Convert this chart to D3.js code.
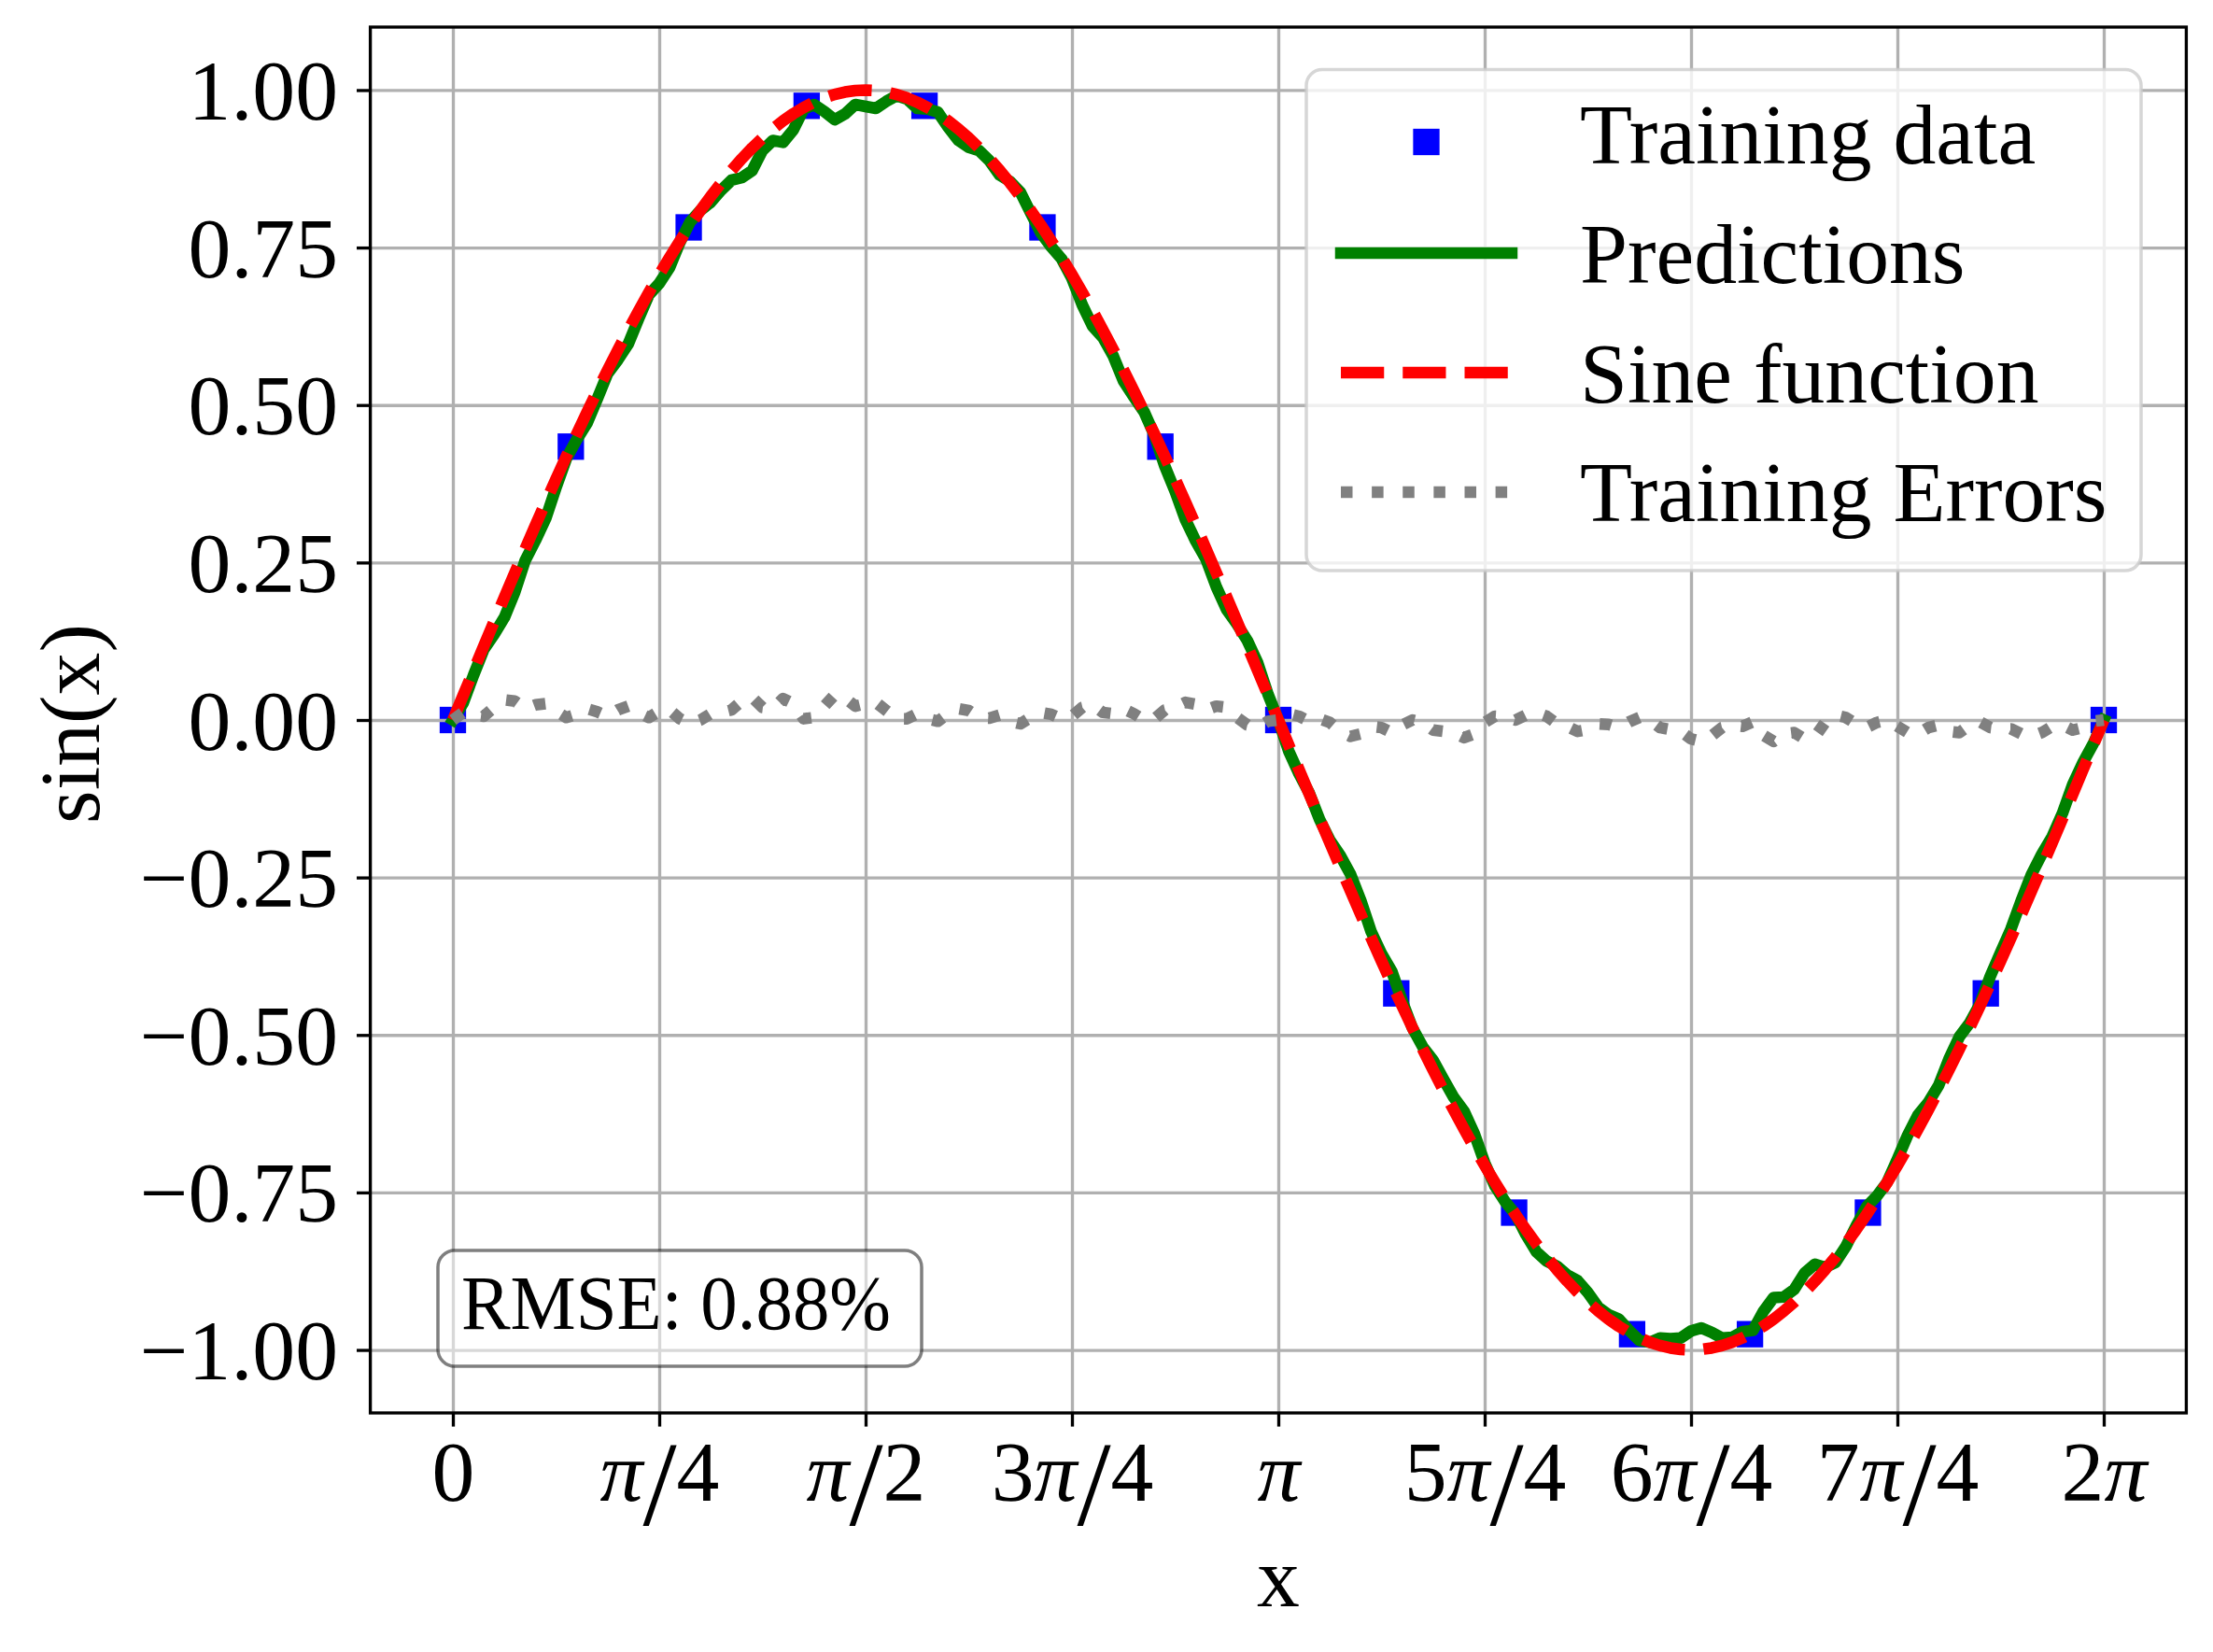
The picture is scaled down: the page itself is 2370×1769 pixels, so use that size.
<!DOCTYPE html>
<html>
<head>
<meta charset="utf-8">
<script src="https://cdn.jsdelivr.net/npm/d3@7"></script>
<style>
  html, body { margin: 0; padding: 0; background: #ffffff; }
  svg { display: block; }
</style>
</head>
<body>
<div id="chart"></div>
<script>
// ---------------- data (x in units of π) ----------------
const xTickValues = [0, 0.25, 0.5, 0.75, 1, 1.25, 1.5, 1.75, 2];
const xTickLabels = ["0", "π/4", "π/2", "3π/4", "π", "5π/4", "6π/4", "7π/4", "2π"];
const yTickValues = [-1, -0.75, -0.5, -0.25, 0, 0.25, 0.5, 0.75, 1];
const yTickLabels = ["−1.00", "−0.75", "−0.50", "−0.25", "0.00", "0.25", "0.50", "0.75", "1.00"];

const trainX = [0, 0.1429, 0.2857, 0.4286, 0.5714, 0.7143, 0.8571, 1, 1.1429, 1.2857, 1.4286, 1.5714, 1.7143, 1.8571, 2];
const trainY = [0, 0.434, 0.782, 0.975, 0.975, 0.782, 0.434, 0, -0.434, -0.782, -0.975, -0.975, -0.782, -0.434, 0];

// curves sampled every π/80 from 0 to 2π (161 samples)
const curveStepPi = 1 / 80;
const sineValues = [
  0, .0393, .0785, .1175, .1564, .1951, .2334, .2714, .309, .3461, .3827, .4187, .454, .4886, .5225, .5556, .5878, .6191, .6494, .6788, .7071, .7343, .7604, .7853, .809, .8315, .8526, .8725, .891, .9081, .9239, .9382, .9511, .9625, .9724, .9808, .9877, .9931, .9969, .9992, 1.0,
  .9992, .9969, .9931, .9877, .9808, .9724, .9625, .9511, .9382, .9239, .9081, .891, .8725, .8526, .8315, .809, .7853, .7604, .7343, .7071, .6788, .6494, .6191, .5878, .5556, .5225, .4886, .454, .4187, .3827, .3461, .309, .2714, .2334, .1951, .1564, .1175, .0785, .0393, 0,
  -.0393, -.0785, -.1175, -.1564, -.1951, -.2334, -.2714, -.309, -.3461, -.3827, -.4187, -.454, -.4886, -.5225, -.5556, -.5878, -.6191, -.6494, -.6788, -.7071, -.7343, -.7604, -.7853, -.809, -.8315, -.8526, -.8725, -.891, -.9081, -.9239, -.9382, -.9511, -.9625, -.9724, -.9808, -.9877, -.9931, -.9969, -.9992, -1.0,
  -.9992, -.9969, -.9931, -.9877, -.9808, -.9724, -.9625, -.9511, -.9382, -.9239, -.9081, -.891, -.8725, -.8526, -.8315, -.809, -.7853, -.7604, -.7343, -.7071, -.6788, -.6494, -.6191, -.5878, -.5556, -.5225, -.4886, -.454, -.4187, -.3827, -.3461, -.309, -.2714, -.2334, -.1951, -.1564, -.1175, -.0785, -.0393, 0
];
const predValues = [
  0, .027, .071, .112, .136, .163, .203, .253, .285, .320, .369, .415, .445, .471, .51, .55, .572, .597, .637, .675, .693, .718, .758, .791, .809, .822, .841, .857, .861, .872, .904, .92, .917, .937, .97, .977, .966, .953, .962, .977, .974,
  .971, .982, .991, .986, .971, .97, .965, .941, .92, .909, .904, .888, .865, .855, .838, .805, .773, .751, .732, .701, .659, .625, .607, .578, .538, .513, .489, .452, .403, .363, .318, .284, .255, .211, .175, .152, .126, .091, .041, 0,
  -.049, -.085, -.116, -.158, -.191, -.215, -.245, -.287, -.336, -.371, -.399, -.446, -.489, -.519, -.54, -.57, -.599, -.621, -.657, -.703, -.74, -.765, -.785, -.817, -.844, -.859, -.867, -.881, -.89, -.909, -.932, -.944, -.951, -.969, -.985, -.988, -.981, -.982, -.981, -.97,
  -.965, -.972, -.981, -.98, -.971, -.969, -.939, -.917, -.916, -.904, -.878, -.864, -.869, -.861, -.836, -.803, -.773, -.756, -.734, -.697, -.659, -.627, -.607, -.58, -.538, -.503, -.481, -.451, -.407, -.369, -.332, -.287, -.245, -.213, -.185, -.148, -.102, -.067, -.037, 0
];
const errorValues = [
  0, .012, .008, .006, .02, .032, .03, .018, .024, .026, .014, .004, .009, .018, .013, .006, .016, .022, .012, .004, .014, .016, .002, -.006, 0, .01, .012, .016, .03, .036, .02, .018, .034, .026, .002, .004, .022, .04, .035, .022, .026,
  .028, .015, .002, .002, .01, .002, -.002, .01, .018, .015, .004, .003, .008, -.002, -.006, .004, .012, .009, .002, .006, .02, .024, .012, .01, .018, .01, 0, .002, .016, .02, .028, .025, .016, .022, .02, .004, -.008, -.012, -.002, 0,
  .01, .006, -.002, .002, -.004, -.018, -.026, -.022, -.01, -.012, -.02, -.008, 0, -.004, -.016, -.018, -.02, -.028, -.022, -.004, .006, .005, 0, .008, .012, .006, -.006, -.01, -.018, -.015, -.006, -.007, -.012, -.003, .004, 0, -.012, -.015, -.018, -.03,
  -.034, -.025, -.012, -.008, -.01, -.003, -.024, -.034, -.022, -.02, -.03, -.027, -.004, .008, .004, -.006, -.012, -.004, 0, -.01, -.02, -.022, -.012, -.008, -.018, -.02, -.008, -.003, -.012, -.014, -.014, -.022, -.026, -.02, -.01, -.008, -.016, -.012, -.002, 0
];
const legendLabels = ["Training data", "Predictions", "Sine function", "Training Errors"];
const rmseText = "RMSE: 0.88%";
const xLabel = "x";
const yLabel = "sin(x)";

// ---------------- layout ----------------
const W = 2370, H = 1769;
const axL = 396.6, axR = 2341.4, axT = 29, axB = 1513;
const FONT = "'Liberation Serif', 'DejaVu Serif', serif";
const FS = 91.7;
const LW = 12.5;

const x = d3.scaleLinear().domain([-0.1, 2.1]).range([axL, axR]);
const y = d3.scaleLinear().domain([-1.1, 1.1]).range([axB, axT]);

const svg = d3.select("#chart").append("svg")
  .attr("width", W).attr("height", H)
  .attr("viewBox", `0 0 ${W} ${H}`);

svg.append("rect").attr("width", W).attr("height", H).attr("fill", "#ffffff");

svg.append("defs").append("clipPath").attr("id", "axclip")
  .append("rect").attr("x", axL).attr("y", axT).attr("width", axR - axL).attr("height", axB - axT);

const plot = svg.append("g").attr("clip-path", "url(#axclip)");

// training data squares (below grid, as in reference)
const MS = 28.3;
plot.append("g").selectAll("rect").data(trainX).join("rect")
  .attr("x", (d) => x(d) - MS / 2)
  .attr("y", (d, i) => y(trainY[i]) - MS / 2)
  .attr("width", MS).attr("height", MS)
  .attr("fill", "#0000ff");

// grid
const gridX = svg.append("g").attr("transform", `translate(0,${axB})`)
  .call(d3.axisBottom(x).tickValues(xTickValues).tickSize(-(axB - axT)).tickFormat(""));
const gridY = svg.append("g").attr("transform", `translate(${axL},0)`)
  .call(d3.axisLeft(y).tickValues(yTickValues).tickSize(-(axR - axL)).tickFormat(""));
[gridX, gridY].forEach(g => {
  g.select(".domain").remove();
  g.selectAll("line").attr("stroke", "#b0b0b0").attr("stroke-width", 3.33);
});

// curves
const idx = d3.range(sineValues.length);
const lineOf = (vals) => d3.line()
  .x((i) => x(i * curveStepPi))
  .y((i) => y(vals[i]));

const plot2 = svg.append("g").attr("clip-path", "url(#axclip)");
plot2.append("path").datum(idx)
  .attr("d", lineOf(predValues))
  .attr("fill", "none").attr("stroke", "#008000").attr("stroke-width", LW)
  .attr("stroke-linejoin", "round").attr("stroke-linecap", "square");
plot2.append("path").datum(idx)
  .attr("d", lineOf(sineValues))
  .attr("fill", "none").attr("stroke", "#ff0000").attr("stroke-width", LW)
  .attr("stroke-dasharray", `${3.7 * LW} ${1.6 * LW}`)
  .attr("stroke-linejoin", "round").attr("stroke-linecap", "butt");
plot2.append("path").datum(idx)
  .attr("d", lineOf(errorValues))
  .attr("fill", "none").attr("stroke", "#808080").attr("stroke-width", LW)
  .attr("stroke-dasharray", `${1 * LW} ${1.65 * LW}`)
  .attr("stroke-linejoin", "round").attr("stroke-linecap", "butt");

// spines
svg.append("rect").attr("x", axL).attr("y", axT).attr("width", axR - axL).attr("height", axB - axT)
  .attr("fill", "none").attr("stroke", "#000000").attr("stroke-width", 3.33);

// axes with ticks
const TL = 14.6;
const xAxis = svg.append("g").attr("transform", `translate(0,${axB})`)
  .call(d3.axisBottom(x).tickValues(xTickValues).tickSize(TL).tickFormat((d, i) => xTickLabels[i]));
const yAxis = svg.append("g").attr("transform", `translate(${axL},0)`)
  .call(d3.axisLeft(y).tickValues(yTickValues).tickSize(TL).tickFormat((d, i) => yTickLabels[i]));
[xAxis, yAxis].forEach(g => {
  g.select(".domain").remove();
  g.selectAll("line").attr("stroke", "#000000").attr("stroke-width", 3.33);
  g.attr("font-family", FONT).attr("font-size", FS);
  g.selectAll("text").attr("fill", "#000000");
});
yAxis.selectAll("text").attr("x", -34.6).attr("dy", null).attr("y", 31);

function mathLabel(textSel, label) {
  textSel.text(null);
  let shifted = false;
  for (const ch of label) {
    const t = textSel.append("tspan").text(ch);
    if (shifted) { t.attr("dy", -26); shifted = false; }
    if (ch === "π") t.attr("font-style", "italic");
    if (ch === "/") { t.attr("font-size", 130).attr("dy", 26); shifted = true; }
  }
}
xAxis.selectAll("text").attr("dy", null).attr("y", 94)
  .each(function (d, i) { mathLabel(d3.select(this), xTickLabels[i]); });

// axis labels
svg.append("text").attr("x", (axL + axR) / 2).attr("y", 1720)
  .attr("text-anchor", "middle").attr("font-family", FONT).attr("font-size", FS)
  .text(xLabel);
svg.append("text").attr("transform", `translate(106,775) rotate(-90)`)
  .attr("text-anchor", "middle").attr("font-family", FONT).attr("font-size", FS)
  .text(yLabel);

// RMSE box
svg.append("rect").attr("x", 469).attr("y", 1339).attr("width", 518).attr("height", 124)
  .attr("rx", 18).attr("ry", 18)
  .attr("fill", "#ffffff").attr("fill-opacity", 0.5)
  .attr("stroke", "#000000").attr("stroke-opacity", 0.5).attr("stroke-width", 3.5);
svg.append("text").attr("x", 494).attr("y", 1423)
  .attr("font-family", FONT).attr("font-size", 83.3)
  .attr("textLength", 460).attr("lengthAdjust", "spacingAndGlyphs")
  .text(rmseText);

// legend
const leg = svg.append("g");
leg.append("rect").attr("x", 1399).attr("y", 74.6).attr("width", 894).attr("height", 536.4)
  .attr("rx", 17).attr("ry", 17)
  .attr("fill", "#ffffff").attr("fill-opacity", 0.8)
  .attr("stroke", "#cccccc").attr("stroke-opacity", 0.8).attr("stroke-width", 3.5);
const hx1 = 1436, hx2 = 1619, rowBase = [175, 303, 430.5, 558], rowMid = [143, 271, 399, 527];
leg.append("rect").attr("x", (hx1 + hx2) / 2 - MS / 2).attr("y", 152 - MS / 2)
  .attr("width", MS).attr("height", MS).attr("fill", "#0000ff");
leg.append("line").attr("x1", hx1).attr("x2", hx2).attr("y1", rowMid[1]).attr("y2", rowMid[1])
  .attr("stroke", "#008000").attr("stroke-width", LW).attr("stroke-linecap", "square");
leg.append("line").attr("x1", hx1).attr("x2", hx2).attr("y1", rowMid[2]).attr("y2", rowMid[2])
  .attr("stroke", "#ff0000").attr("stroke-width", LW)
  .attr("stroke-dasharray", `${3.7 * LW} ${1.6 * LW}`);
leg.append("line").attr("x1", hx1).attr("x2", hx2).attr("y1", rowMid[3]).attr("y2", rowMid[3])
  .attr("stroke", "#808080").attr("stroke-width", LW)
  .attr("stroke-dasharray", `${1 * LW} ${1.65 * LW}`);
leg.selectAll("text.lab").data(legendLabels).join("text").attr("class", "lab")
  .attr("x", 1692).attr("y", (d, i) => rowBase[i])
  .attr("font-family", FONT).attr("font-size", FS)
  .text((d) => d);
</script>
</body>
</html>
